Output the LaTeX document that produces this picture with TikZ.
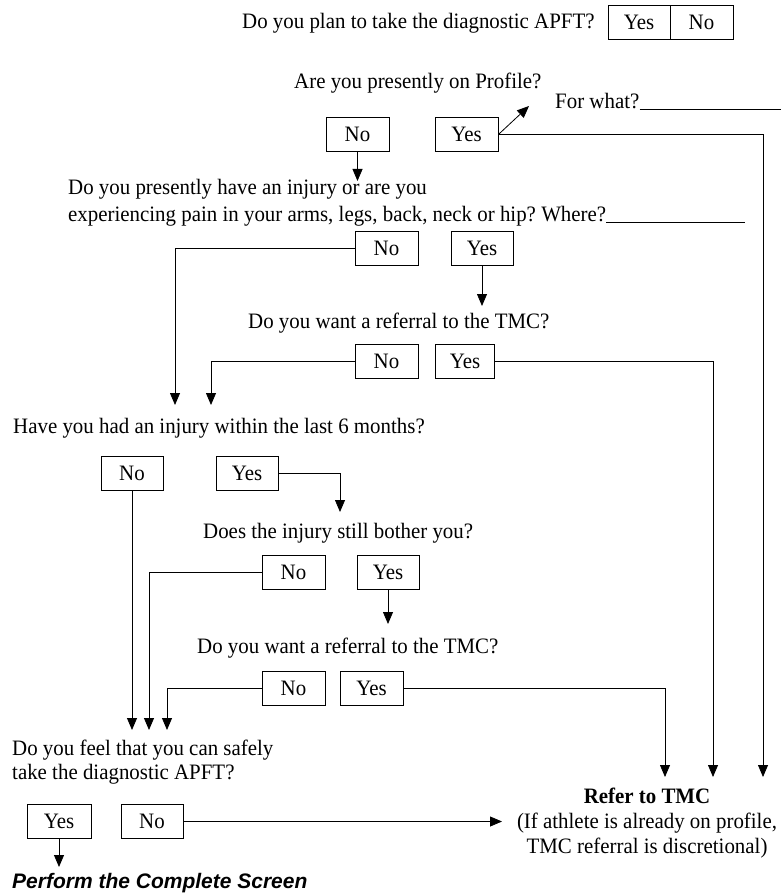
\documentclass[tikz,border=0pt]{standalone}
\usepackage{fontspec}
\setmainfont[FakeStretch=0.95]{Liberation Serif}
\newfontfamily\screenfont{Liberation Sans}
\usetikzlibrary{arrows.meta, positioning}
\frenchspacing

\begin{document}
\begin{tikzpicture}[x=1pt, y=-1pt, font=\fontsize{22}{25}\selectfont,
  box/.style={draw, line width=0.8pt, minimum width=63pt, minimum height=34pt, inner sep=0pt},
  qtext/.style={anchor=base west, inner sep=0pt},
  link/.style={line width=0.8pt},
  arr/.style={line width=0.8pt, -{Triangle[length=12pt, width=10pt]}}]
\useasboundingbox (0,0) rectangle (781,893);

% questions
\node[qtext] (q0) at (242,29) {Do you plan to take the diagnostic APFT?};
\node[qtext] (q1) at (294,89) {Are you presently on Profile?};
\node[qtext] (forwhat) at (555,109) {For what?};
\node[qtext] (q2a) at (68,195) {Do you presently have an injury or are you};
\node[qtext] (q2b) at (68,222) {experiencing pain in your arms, legs, back, neck or hip? Where?};
\node[qtext] (q3) at (248,328) {Do you want a referral to the TMC?};
\node[qtext] (q4) at (13,433) {Have you had an injury within the last 6 months?};
\node[qtext] (q5) at (203,538) {Does the injury still bother you?};
\node[qtext] (q6) at (197,653) {Do you want a referral to the TMC?};
\node[qtext] (q7a) at (12,755) {Do you feel that you can safely};
\node[qtext] (q7b) at (12,779) {take the diagnostic APFT?};

\draw[link] (forwhat.base east) -- (781,109);
\draw[link] (q2b.base east) -- (745,222);

% answer boxes
\node[box, minimum width=62pt] (yes0) at (639,22) {Yes};
\node[box] (no0) at (701.5,22) {No};
\node[box] (no1) at (357.5,134.5) {No};
\node[box] (yes1) at (466.5,134.5) {Yes};
\node[box] (no2) at (386.5,248.5) {No};
\node[box, minimum width=62pt] (yes2) at (482,248.5) {Yes};
\node[box] (no3) at (386.5,361) {No};
\node[box, minimum width=59pt] (yes3) at (465,361) {Yes};
\node[box, minimum width=62pt] (no4) at (132,473) {No};
\node[box, minimum width=62pt] (yes4) at (247,473) {Yes};
\node[box] (no5) at (293.5,572) {No};
\node[box, minimum width=62pt] (yes5) at (388,572) {Yes};
\node[box] (no6) at (293.5,688) {No};
\node[box] (yes6) at (371.5,688) {Yes};
\node[box, minimum width=64pt] (yes7) at (59,821.5) {Yes};
\node[box, minimum width=62pt] (no7) at (152,821.5) {No};

% outcomes
\node[anchor=base, inner sep=0pt] (tmc) at (647,803) {\bfseries Refer to TMC};
\node[anchor=base, inner sep=0pt] (tmcb) at (647,828) {(If athlete is already on profile,};
\node[anchor=base, inner sep=0pt] (tmcc) at (647,853) {TMC referral is discretional)};
\node[qtext] (screen) at (12,888) {\screenfont\fontsize{21}{25}\selectfont\bfseries\itshape Perform the Complete Screen};

% arrow ends
\coordinate (fw) at (529,106);
\coordinate (inA) at (175,405);
\coordinate (inB) at (211,405);
\coordinate (feelA) at (132,730);
\coordinate (feelB) at (149,730);
\coordinate (feelC) at (167,730);
\coordinate (tmcA) at (665,777);
\coordinate (tmcB) at (713,777);
\coordinate (tmcC) at (763,777);
\coordinate (tmcL) at (502,821.5);

% connectors
\draw[arr] (yes1.east) -- (fw);
\draw[arr] (yes1.east) -| (tmcC);
\draw[arr] (no1.south) -- (357.5,181);
\draw[arr] (no2.west) -| (inA);
\draw[arr] (yes2.south) -- (482,306);
\draw[arr] (no3.west) -| (inB);
\draw[arr] (yes3.east) -| (tmcB);
\draw[arr] (no4.south) -- (feelA);
\draw[arr] (yes4.east) -| (340,512);
\draw[arr] (no5.west) -| (feelB);
\draw[arr] (yes5.south) -- (388,624);
\draw[arr] (no6.west) -| (feelC);
\draw[arr] (yes6.east) -| (tmcA);
\draw[arr] (yes7.south) -- (59,867);
\draw[arr] (no7.east) -- (tmcL);
\end{tikzpicture}
\end{document}
